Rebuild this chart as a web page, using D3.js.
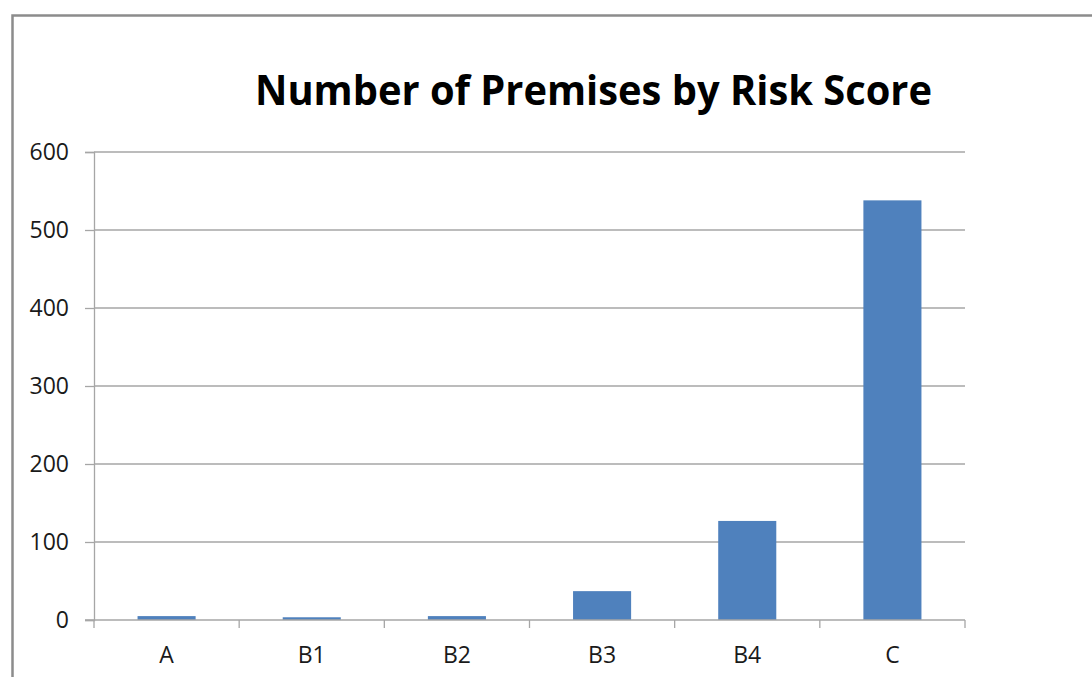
<!DOCTYPE html>
<html>
<head>
<meta charset="utf-8">
<script src="https://cdn.jsdelivr.net/npm/d3@7"></script>
<style>
  html, body { margin: 0; padding: 0; background: #fff; }
  svg { display: block; }
</style>
</head>
<body>
<svg id="chart" width="1092" height="677"></svg>
<script>
// Risk score categories and the number of premises in each
const categories = ["A", "B1", "B2", "B3", "B4", "C"];
const premises = [5, 3.5, 5, 37, 127, 538];
const yTicks = [0, 100, 200, 300, 400, 500, 600];
const title = "Number of Premises by Risk Score";

const svg = d3.select("#chart");
const W = 1092, H = 677;
const plot = { left: 94, right: 965, top: 152, bottom: 620 };
const font = "'Open Sans', 'Liberation Sans', sans-serif";
const gridColor = "#a6a6a6";
const labelColor = "#1a1a1a";

// Chart area frame (only the top and left edges fall inside the page)
svg.append("path")
  .attr("d", `M12.5,${H + 5} V15.5 H${W + 5}`)
  .attr("fill", "none")
  .attr("stroke", "#8c8c8c")
  .attr("stroke-width", 2.5);

const x = d3.scaleBand().domain(categories).range([plot.left, plot.right]).padding(0);
const y = d3.scaleLinear().domain([0, 600]).range([plot.bottom, plot.top]);

// Horizontal gridlines
svg.append("g").selectAll("line")
  .data(yTicks.filter(d => d > 0))
  .join("line")
  .attr("x1", plot.left).attr("x2", plot.right)
  .attr("y1", d => y(d)).attr("y2", d => y(d))
  .attr("stroke", gridColor).attr("stroke-width", 1.3);

// Y axis
const yAxis = svg.append("g")
  .attr("transform", `translate(${plot.left},0)`)
  .call(d3.axisLeft(y).tickValues(yTicks).tickSize(9).tickPadding(16).tickFormat(d3.format("d")));
yAxis.select(".domain").attr("stroke", gridColor).attr("stroke-width", 1.3);
yAxis.selectAll(".tick line").attr("stroke", gridColor).attr("stroke-width", 1.3);
yAxis.selectAll(".tick text")
  .attr("font-family", font).attr("font-size", 23).attr("fill", labelColor);

// Bars: gap width of 150% leaves each bar 40% of its category slot
const barFrac = 0.4;
svg.append("g").selectAll("rect")
  .data(categories.map((c, i) => ({ c, v: premises[i] })))
  .join("rect")
  .attr("x", d => x(d.c) + x.bandwidth() * (1 - barFrac) / 2)
  .attr("width", x.bandwidth() * barFrac)
  .attr("y", d => y(d.v))
  .attr("height", d => y(0) - y(d.v))
  .attr("fill", "#4f81bd");

// X axis with tick marks between categories
const xg = svg.append("g");
xg.append("line")
  .attr("x1", plot.left - 9).attr("x2", plot.right)
  .attr("y1", y(0)).attr("y2", y(0))
  .attr("stroke", gridColor).attr("stroke-width", 1.3);
const bounds = categories.map(c => x(c)).concat([x(categories[categories.length - 1]) + x.bandwidth()]);
xg.selectAll("line.sep")
  .data(bounds)
  .join("line")
  .attr("class", "sep")
  .attr("x1", d => d).attr("x2", d => d)
  .attr("y1", y(0)).attr("y2", y(0) + 8)
  .attr("stroke", gridColor).attr("stroke-width", 1.3);
xg.selectAll("text")
  .data(categories)
  .join("text")
  .attr("x", d => x(d) + x.bandwidth() / 2)
  .attr("y", 663)
  .attr("text-anchor", "middle")
  .attr("font-family", font).attr("font-size", 23).attr("fill", labelColor)
  .text(d => d);

// Title
svg.append("text")
  .attr("x", 255).attr("y", 105)
  .attr("font-family", font).attr("font-weight", "bold").attr("font-size", 41)
  .attr("textLength", 677).attr("lengthAdjust", "spacingAndGlyphs")
  .attr("fill", "#000")
  .text(title);
</script>
</body>
</html>
